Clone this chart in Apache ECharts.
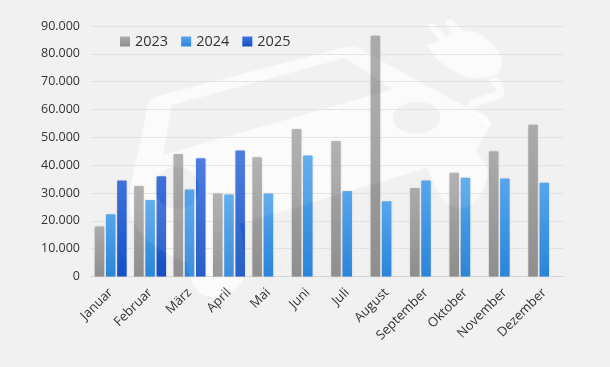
<!DOCTYPE html>
<html>
<head>
<meta charset="utf-8">
<style>
  html, body { margin: 0; padding: 0; background: #f1f1f1; }
  #chart { width: 610px; height: 367px; }
</style>
<script src="https://cdn.jsdelivr.net/npm/echarts@6/dist/echarts.min.js"></script>
</head>
<body>
<div id="chart"></div>
<script>
const months = ['Januar', 'Februar', 'März', 'April', 'Mai', 'Juni', 'Juli', 'August', 'September', 'Oktober', 'November', 'Dezember'];
const values2023 = [18000, 32500, 44000, 29800, 42800, 53000, 48700, 86500, 31800, 37300, 45000, 54500];
const values2024 = [22400, 27500, 31300, 29500, 29800, 43500, 30700, 27000, 34500, 35500, 35200, 33700];
const values2025 = [34500, 36000, 42500, 45300, null, null, null, null, null, null, null, null];

const fontName = '"Open Sans", sans-serif';

const barColor = (top, bottom) => new echarts.graphic.LinearGradient(0, 0, 0, 1, [
  { offset: 0, color: top },
  { offset: 1, color: bottom }
]);

const barSeries = (name, data, top, bottom) => ({
  name: name,
  type: 'bar',
  data: data,
  barWidth: 9.5,
  barGap: '18%',
  itemStyle: {
    color: barColor(top, bottom),
    borderRadius: [1, 1, 0, 0],
    shadowColor: 'rgba(160, 130, 90, 0.35)',
    shadowBlur: 2
  }
});

// Hintergrund-Wasserzeichen: Auto mit Stecker
const watermark = {
  wmCar: 'M158 96 L345 47 Q354 45 362 50 L486 118 Q492 122 489 128 L476 150 L488 170 Q486 195 468 207 Q448 212 437 190 L427 168 L240 224 Q248 270 242 282 Q225 300 205 296 Q190 290 187 262 Q150 250 133 222 Q127 205 131 185 L148 104 Q150 98 158 96 Z '
    + 'M172 105 L163 155 L393 89 L345 58 Z '
    + 'M155 188 C155 200 165 209 177 209 C190 209 199 200 199 188 C199 177 190 167 177 167 C165 167 155 177 155 188 Z '
    + 'M417 102 C400 102 393 110 393 118 C393 128 405 134 420 133 C433 132 441 125 440 116 C439 107 430 102 417 102 Z',
  wmPlug: 'M427 25 L433 23 L446 36 L452 34 L445 21 L451 19 L464 31 L477 32 Q497 45 502 58 Q503 68 497 75 Q480 80 467 77 Q448 70 435 57 L427 45 L440 41 Z',
  wmCable: 'M497 77 L505 90 Q504 97 497 100 L477 106 L474 109 L487 116 L492 125 L486 125 L482 120 L467 110 Q467 102 472 99 L492 93 Q497 91 496 89 L488 79 Z'
};
Object.keys(watermark).forEach(key => {
  echarts.graphic.registerShape(key, echarts.graphic.extendPath(watermark[key], {}));
});

const chart = echarts.init(document.getElementById('chart'), null, { renderer: 'canvas' });

// hinter den Balken kräftig, darüber nur ein leichter Schleier
const watermarkLayer = (z, alpha) => Object.keys(watermark).map(key => ({
  type: key,
  z: z,
  silent: true,
  style: {
    fill: 'rgba(255, 255, 255, ' + alpha + ')',
    shadowColor: 'rgba(255, 255, 255, ' + alpha + ')',
    shadowBlur: 2
  }
}));

chart.setOption({
  backgroundColor: '#f1f1f1',
  animation: false,
  textStyle: { fontFamily: fontName },
  legend: {
    left: 115,
    top: 29,
    itemWidth: 10,
    itemHeight: 10,
    itemGap: 13,
    icon: 'rect',
    textStyle: { fontSize: 14.5, color: '#333', fontFamily: fontName },
    data: ['2023', '2024', '2025']
  },
  grid: { left: 91, right: 46, top: 26, bottom: 90.5 },
  xAxis: {
    type: 'category',
    data: months,
    axisTick: { show: false },
    axisLine: { lineStyle: { color: '#d6d6d6', width: 1 } },
    axisLabel: { rotate: 45, fontSize: 13, color: '#333', margin: 14, interval: 0, fontFamily: fontName }
  },
  yAxis: {
    type: 'value',
    min: 0,
    max: 90000,
    interval: 10000,
    axisLine: { show: false },
    axisTick: { show: false },
    splitLine: { lineStyle: { color: '#e2e2e2', width: 1 } },
    axisLabel: {
      fontSize: 12.5,
      color: '#333',
      margin: 11,
      fontFamily: fontName,
      formatter: v => v === 0 ? '0' : v.toLocaleString('de-DE')
    }
  },
  series: [
    barSeries('2023', values2023, '#ababab', '#8e8e8e'),
    barSeries('2024', values2024, '#55a6ee', '#2a85da'),
    barSeries('2025', values2025, '#3d72de', '#1450c4')
  ],
  graphic: watermarkLayer(-1, 0.55).concat(watermarkLayer(100, 0.08))
});
</script>
</body>
</html>
